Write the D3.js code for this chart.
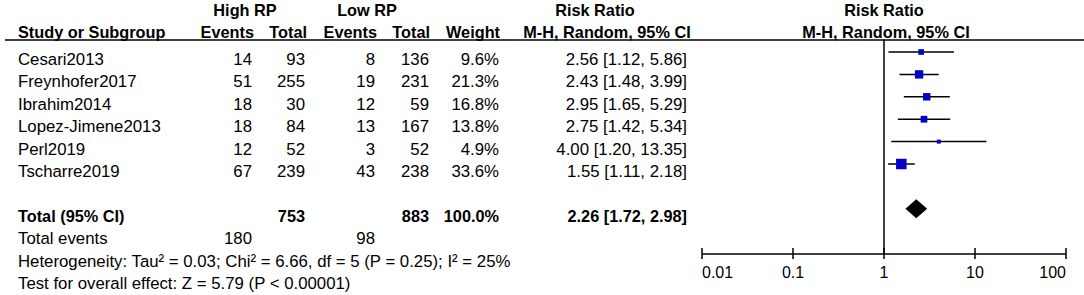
<!DOCTYPE html>
<html>
<head>
<meta charset="utf-8">
<script src="https://cdn.jsdelivr.net/npm/d3@7"></script>
<style>
  body { margin: 0; background: #fff; }
  svg text { font-family: "Liberation Sans", Arial, sans-serif; font-size: 16.8px; fill: #000; }
  svg text.b, .b text { font-weight: bold; font-size: 16.3px; }
  .tk { font-size: 16px; }
</style>
</head>
<body>
<div id="chart"></div>
<script>
const studies = ["Cesari2013", "Freynhofer2017", "Ibrahim2014", "Lopez-Jimene2013", "Perl2019", "Tscharre2019"];
const highEvents = [14, 51, 18, 18, 12, 67];
const highTotal = [93, 255, 30, 84, 52, 239];
const lowEvents = [8, 19, 12, 13, 3, 43];
const lowTotal = [136, 231, 59, 167, 52, 238];
const weights = [9.6, 21.3, 16.8, 13.8, 4.9, 33.6];
const rr = [2.56, 2.43, 2.95, 2.75, 4.00, 1.55];
const lower = [1.12, 1.48, 1.65, 1.42, 1.20, 1.11];
const upper = [5.86, 3.99, 5.29, 5.34, 13.35, 2.18];
const pooled = { rr: 2.26, lower: 1.72, upper: 2.98, highTotal: 753, lowTotal: 883, highEvents: 180, lowEvents: 98 };
const ticks = [0.01, 0.1, 1, 10, 100];

const width = 1084, height = 295;

const svg = d3.select("#chart")
  .append("svg")
  .attr("width", width)
  .attr("height", height);

// row index -> y of the marks; text baselines sit a bit lower
const y = d3.scaleLinear().domain([0, 1]).range([52, 74.4]);
const base = i => y(i) + 13;

const x = d3.scaleLog().domain([0.01, 100]).range([702, 1066]);
const size = d3.scaleSqrt().domain([0, 33.6]).range([0, 10.5]);

// header
const hdr = svg.append("g").attr("class", "b");
hdr.append("text").attr("x", 245).attr("y", 16).attr("text-anchor", "middle").text("High RP");
hdr.append("text").attr("x", 367).attr("y", 16).attr("text-anchor", "middle").text("Low RP");
hdr.append("text").attr("x", 595).attr("y", 16).attr("text-anchor", "middle").text("Risk Ratio");
hdr.append("text").attr("x", 884).attr("y", 16).attr("text-anchor", "middle").text("Risk Ratio");

const cols = [
  { label: "Study or Subgroup", x: 18, anchor: "start" },
  { label: "Events", x: 254, anchor: "end" },
  { label: "Total", x: 307, anchor: "end" },
  { label: "Events", x: 377, anchor: "end" },
  { label: "Total", x: 430, anchor: "end" },
  { label: "Weight", x: 500, anchor: "end" },
  { label: "M-H, Random, 95% CI", x: 607, anchor: "middle" },
  { label: "M-H, Random, 95% CI", x: 886, anchor: "middle" }
];
hdr.selectAll(".col")
  .data(cols)
  .enter().append("text")
  .attr("x", d => d.x)
  .attr("y", 38)
  .attr("text-anchor", d => d.anchor)
  .text(d => d.label);

svg.append("line")
  .attr("x1", 5).attr("x2", width)
  .attr("y1", 40).attr("y2", 40)
  .attr("stroke", "#000").attr("stroke-width", 1.5);

// study rows
const fmt = d3.format(".2f");
const rows = svg.selectAll(".row")
  .data(studies)
  .enter().append("g")
  .attr("class", "row");

rows.append("text").attr("x", 18).attr("y", (d, i) => base(i)).text(d => d);
rows.append("text").attr("x", 252).attr("y", (d, i) => base(i)).attr("text-anchor", "end").text((d, i) => highEvents[i]);
rows.append("text").attr("x", 305).attr("y", (d, i) => base(i)).attr("text-anchor", "end").text((d, i) => highTotal[i]);
rows.append("text").attr("x", 375).attr("y", (d, i) => base(i)).attr("text-anchor", "end").text((d, i) => lowEvents[i]);
rows.append("text").attr("x", 429).attr("y", (d, i) => base(i)).attr("text-anchor", "end").text((d, i) => lowTotal[i]);
rows.append("text").attr("x", 499).attr("y", (d, i) => base(i)).attr("text-anchor", "end").text((d, i) => weights[i].toFixed(1) + "%");
rows.append("text").attr("x", 687).attr("y", (d, i) => base(i)).attr("text-anchor", "end")
  .text((d, i) => `${fmt(rr[i])} [${fmt(lower[i])}, ${fmt(upper[i])}]`);

// total row
const tot = svg.append("g").attr("class", "b");
tot.append("text").attr("x", 18).attr("y", base(7)).text("Total (95% CI)");
tot.append("text").attr("x", 305).attr("y", base(7)).attr("text-anchor", "end").text(pooled.highTotal);
tot.append("text").attr("x", 429).attr("y", base(7)).attr("text-anchor", "end").text(pooled.lowTotal);
tot.append("text").attr("x", 499).attr("y", base(7)).attr("text-anchor", "end").text("100.0%");
tot.append("text").attr("x", 687).attr("y", base(7)).attr("text-anchor", "end")
  .text(`${fmt(pooled.rr)} [${fmt(pooled.lower)}, ${fmt(pooled.upper)}]`);

svg.append("text").attr("x", 18).attr("y", base(8)).text("Total events");
svg.append("text").attr("x", 252).attr("y", base(8)).attr("text-anchor", "end").text(pooled.highEvents);
svg.append("text").attr("x", 375).attr("y", base(8)).attr("text-anchor", "end").text(pooled.lowEvents);
svg.append("text").attr("x", 18).attr("y", base(9))
  .text("Heterogeneity: Tau² = 0.03; Chi² = 6.66, df = 5 (P = 0.25); I² = 25%");
svg.append("text").attr("x", 18).attr("y", base(10))
  .text("Test for overall effect: Z = 5.79 (P < 0.00001)");

// forest plot
const axisY = 254;
svg.append("line")
  .attr("x1", x(1)).attr("x2", x(1))
  .attr("y1", 40).attr("y2", axisY)
  .attr("stroke", "#000").attr("stroke-width", 1.5);

const marks = svg.selectAll(".ci")
  .data(studies)
  .enter().append("g");

marks.append("line")
  .attr("x1", (d, i) => x(lower[i]))
  .attr("x2", (d, i) => x(upper[i]))
  .attr("y1", (d, i) => y(i))
  .attr("y2", (d, i) => y(i))
  .attr("stroke", "#000").attr("stroke-width", 1.5);

marks.append("rect")
  .attr("x", (d, i) => x(rr[i]) - size(weights[i]) / 2)
  .attr("y", (d, i) => y(i) - size(weights[i]) / 2)
  .attr("width", (d, i) => size(weights[i]))
  .attr("height", (d, i) => size(weights[i]))
  .attr("fill", "#0000c8");

const dy = y(7);
svg.append("path")
  .attr("d", `M${x(pooled.lower)},${dy} L${x(pooled.rr)},${dy - 9.5} L${x(pooled.upper)},${dy} L${x(pooled.rr)},${dy + 9.5} Z`)
  .attr("fill", "#000");

// axis
const ax = svg.append("g");
ax.append("line")
  .attr("x1", x(0.01)).attr("x2", x(100))
  .attr("y1", axisY).attr("y2", axisY)
  .attr("stroke", "#000").attr("stroke-width", 1.5);
ax.selectAll(".tick")
  .data(ticks)
  .enter().append("line")
  .attr("x1", d => x(d)).attr("x2", d => x(d))
  .attr("y1", axisY - 6).attr("y2", axisY + 5)
  .attr("stroke", "#000").attr("stroke-width", 1.5);
ax.selectAll(".lbl")
  .data(ticks)
  .enter().append("text")
  .attr("class", "tk")
  .attr("x", d => x(d))
  .attr("y", axisY + 24)
  .attr("text-anchor", (d, i) => i === 0 ? "start" : i === ticks.length - 1 ? "end" : "middle")
  .text(d => d);
</script>
</body>
</html>
